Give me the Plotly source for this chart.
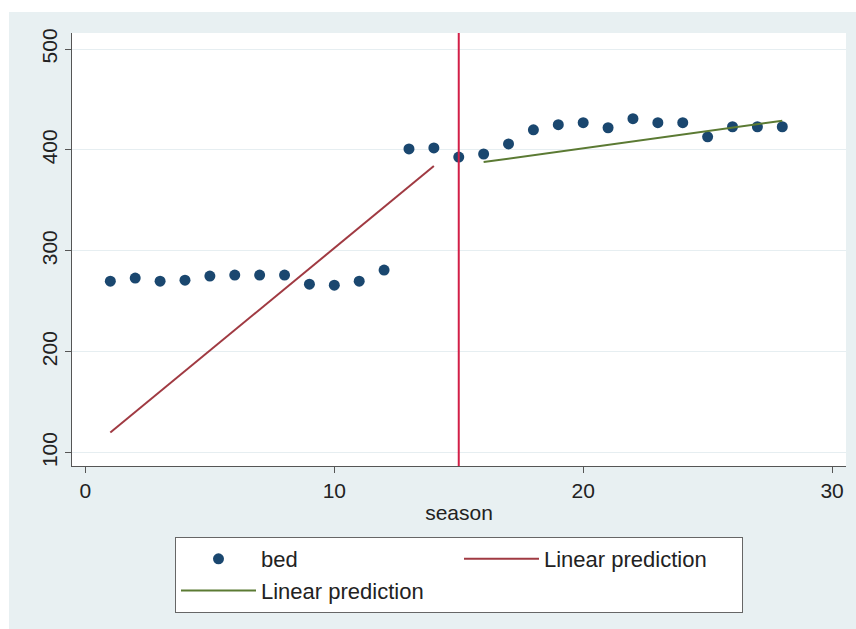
import plotly.graph_objects as go

# ---- data ----
season = list(range(1, 29))
bed = [270, 273, 270, 271, 275, 276, 276, 276, 267, 266, 270, 281,
       401, 402, 393, 396, 406, 420, 425, 427, 422, 431, 427, 427,
       413, 423, 423, 423]
pred1_x = [1, 14]
pred1_y = [120, 384]
pred2_x = [16, 28]
pred2_y = [388, 429]
xline = 15
xticks = [0, 10, 20, 30]
yticks = [100, 200, 300, 400, 500]

NAVY = "#1a476f"
MAROON = "#a03a42"
GREEN = "#5b7a33"
XLINE_COLOR = "#d21f47"
BG = "#e8f0f2"
FONT = "Liberation Sans, Arial, sans-serif"

fig = go.Figure()
fig.add_trace(go.Scatter(x=season, y=bed, mode="markers", name="bed",
                         marker=dict(color=NAVY, size=11, symbol="circle")))
fig.add_trace(go.Scatter(x=pred1_x, y=pred1_y, mode="lines", name="Linear prediction",
                         line=dict(color=MAROON, width=2)))
fig.add_trace(go.Scatter(x=pred2_x, y=pred2_y, mode="lines", name="Linear prediction",
                         line=dict(color=GREEN, width=2)))

fig.add_shape(type="line", xref="x", yref="paper", x0=xline, x1=xline, y0=0, y1=1,
              line=dict(color=XLINE_COLOR, width=2), layer="above")

# white outer border strips (top and left)
fig.add_shape(type="rect", xref="paper", yref="paper", x0=-0.2, x1=1.1,
              y0=1.0485, y1=1.2, fillcolor="white", line=dict(width=0), layer="below")
fig.add_shape(type="rect", xref="paper", yref="paper", x0=-0.2, x1=-0.0814,
              y0=-0.5, y1=1.2, fillcolor="white", line=dict(width=0), layer="below")

fig.update_layout(
    width=856, height=629,
    margin=dict(l=72, r=10, t=33, b=163),
    paper_bgcolor=BG, plot_bgcolor="white",
    font=dict(family=FONT, size=21, color="#222222"),
    showlegend=True,
    legend=dict(orientation="h", x=0.5, xanchor="center", y=-0.164, yanchor="top",
                bgcolor="white", bordercolor="#666666", borderwidth=1,
                entrywidth=193, entrywidthmode="pixels",
                font=dict(family=FONT, size=22, color="#222222"),
                tracegroupgap=0, itemwidth=75),
)
fig.update_xaxes(range=[-0.54, 30.56], tickvals=xticks, ticks="outside", ticklen=6,
                 tickcolor="#555555", showline=True, linecolor="#555555", linewidth=1,
                 showgrid=False, zeroline=False, mirror=False,
                 title=dict(text="season", font=dict(size=21), standoff=4),
                 tickfont=dict(size=21))
fig.update_yaxes(range=[86.8, 515.9], tickvals=yticks, ticks="outside", ticklen=6,
                 tickcolor="#555555", showline=True, linecolor="#555555", linewidth=1,
                 showgrid=True, gridcolor="#e6eef1", gridwidth=1, zeroline=False,
                 tickangle=-90, tickfont=dict(size=21))

fig.write_html("out.html")
